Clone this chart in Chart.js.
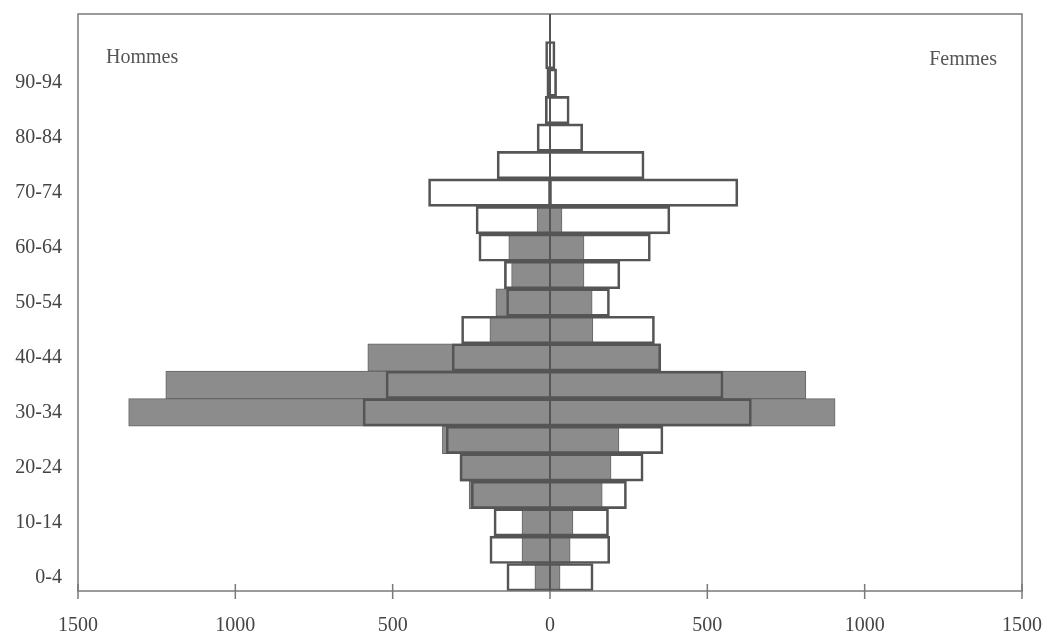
<!DOCTYPE html>
<html lang="fr">
<head>
  <meta charset="UTF-8">
  <title>Pyramide des âges</title>
  <script src="https://cdn.jsdelivr.net/npm/chart.js"></script>
  <style>
    body {
      margin: 0;
      padding: 0;
      background: #ffffff;
    }
    .chart-box {
      position: relative;
      width: 1049px;
      height: 636px;
    }
  </style>
</head>
<body>
  <div class="chart-box">
    <canvas id="pyramid"></canvas>
  </div>

  <script>
    // tranches d'âge, de bas en haut
    const ages = ['0-4', '5-9', '10-14', '15-19', '20-24', '25-29', '30-34', '35-39', '40-44', '45-49',
                  '50-54', '55-59', '60-64', '65-69', '70-74', '75-79', '80-84', '85-89', '90-94', '95-99', '100+'];

    // barres blanches (contour)
    const hommesContour = [137, 191, 178, 250, 286, 330, 594, 521, 311, 281, 138, 145, 226, 235, 386, 168, 41, 15, 10, 14, 0];
    const femmesContour = [137, 190, 186, 243, 296, 359, 640, 550, 352, 332, 189, 222, 319, 381, 597, 299, 104, 61, 21, 16, 0];

    // barres grises
    const hommesGris = [48, 89, 89, 257, 286, 342, 1339, 1221, 579, 191, 172, 122, 131, 41, 5, 2, 0, 0, 0, 0, 0];
    const femmesGris = [32, 64, 73, 166, 194, 219, 906, 813, 352, 136, 134, 108, 108, 38, 5, 2, 0, 0, 0, 0, 0];

    const xTicks = [-1500, -1000, -500, 0, 500, 1000, 1500];

    const serif = "'Liberation Serif', 'DejaVu Serif', serif";

    // barre flottante : hommes a gauche (negatif), femmes a droite
    function pairs(h, f) {
      return h.map((v, i) => (v === 0 && f[i] === 0) ? null : [-v, f[i]]);
    }

    // cadre, ligne du zero, petits traits de l'axe, libelles Hommes / Femmes
    const decor = {
      id: 'decor',
      afterDatasetsDraw(chart) {
        const { ctx, chartArea: a, scales } = chart;
        const x0 = scales.x.getPixelForValue(0);
        ctx.save();
        ctx.strokeStyle = '#7a7a7a';
        ctx.lineWidth = 1.5;
        ctx.strokeRect(a.left, a.top, a.right - a.left, a.bottom - a.top);

        ctx.beginPath();
        xTicks.forEach(v => {
          const px = scales.x.getPixelForValue(v);
          ctx.moveTo(px, a.bottom - 7);
          ctx.lineTo(px, a.bottom + 8);
        });
        ctx.stroke();

        ctx.strokeStyle = '#555555';
        ctx.lineWidth = 2;
        ctx.beginPath();
        ctx.moveTo(x0, a.top);
        ctx.lineTo(x0, a.bottom);
        ctx.stroke();

        ctx.fillStyle = '#555555';
        ctx.font = '20px ' + serif;
        ctx.textBaseline = 'alphabetic';
        ctx.textAlign = 'left';
        ctx.fillText('Hommes', a.left + 28, 63);
        ctx.textAlign = 'right';
        ctx.fillText('Femmes', a.right - 25, 65);
        ctx.restore();
      }
    };

    new Chart(document.getElementById('pyramid'), {
      type: 'bar',
      data: {
        labels: ages,
        datasets: [
          {
            label: 'Contour',
            data: pairs(hommesContour, femmesContour),
            backgroundColor: 'rgba(0,0,0,0)',
            borderColor: '#555555',
            borderWidth: 2,
            borderSkipped: false,
            grouped: false,
            barPercentage: 1,
            categoryPercentage: 1
          },
          {
            label: 'Gris',
            data: pairs(hommesGris, femmesGris),
            backgroundColor: '#8c8c8c',
            borderColor: '#666666',
            borderWidth: 1,
            borderSkipped: false,
            grouped: false,
            barPercentage: 1,
            categoryPercentage: 1
          }
        ]
      },
      options: {
        indexAxis: 'y',
        responsive: true,
        maintainAspectRatio: false,
        animation: false,
        layout: { padding: { top: 14, right: 27, left: 0, bottom: 0 } },
        plugins: {
          legend: { display: false },
          tooltip: { enabled: false }
        },
        scales: {
          x: {
            min: -1500,
            max: 1500,
            afterFit(scale) {
              scale.height = 45;
              scale.paddingLeft = 0;
              scale.paddingRight = 0;
            },
            afterBuildTicks(scale) { scale.ticks = xTicks.map(v => ({ value: v })); },
            grid: { display: false, drawTicks: false },
            border: { display: false },
            ticks: {
              padding: 23,
              color: '#444444',
              font: { family: serif, size: 20 },
              callback: v => Math.abs(v)
            }
          },
          y: {
            reverse: true,
            afterFit(scale) {
              scale.width = 78;
              scale.paddingTop = 0;
              scale.paddingBottom = 0;
            },
            grid: { display: false, drawTicks: false },
            border: { display: false },
            ticks: {
              autoSkip: false,
              padding: 16,
              color: '#444444',
              font: { family: serif, size: 20 },
              callback: (v, i) => (i % 2 === 0 && i < 19) ? ages[i] : ''
            }
          }
        }
      },
      plugins: [decor]
    });
  </script>
</body>
</html>
